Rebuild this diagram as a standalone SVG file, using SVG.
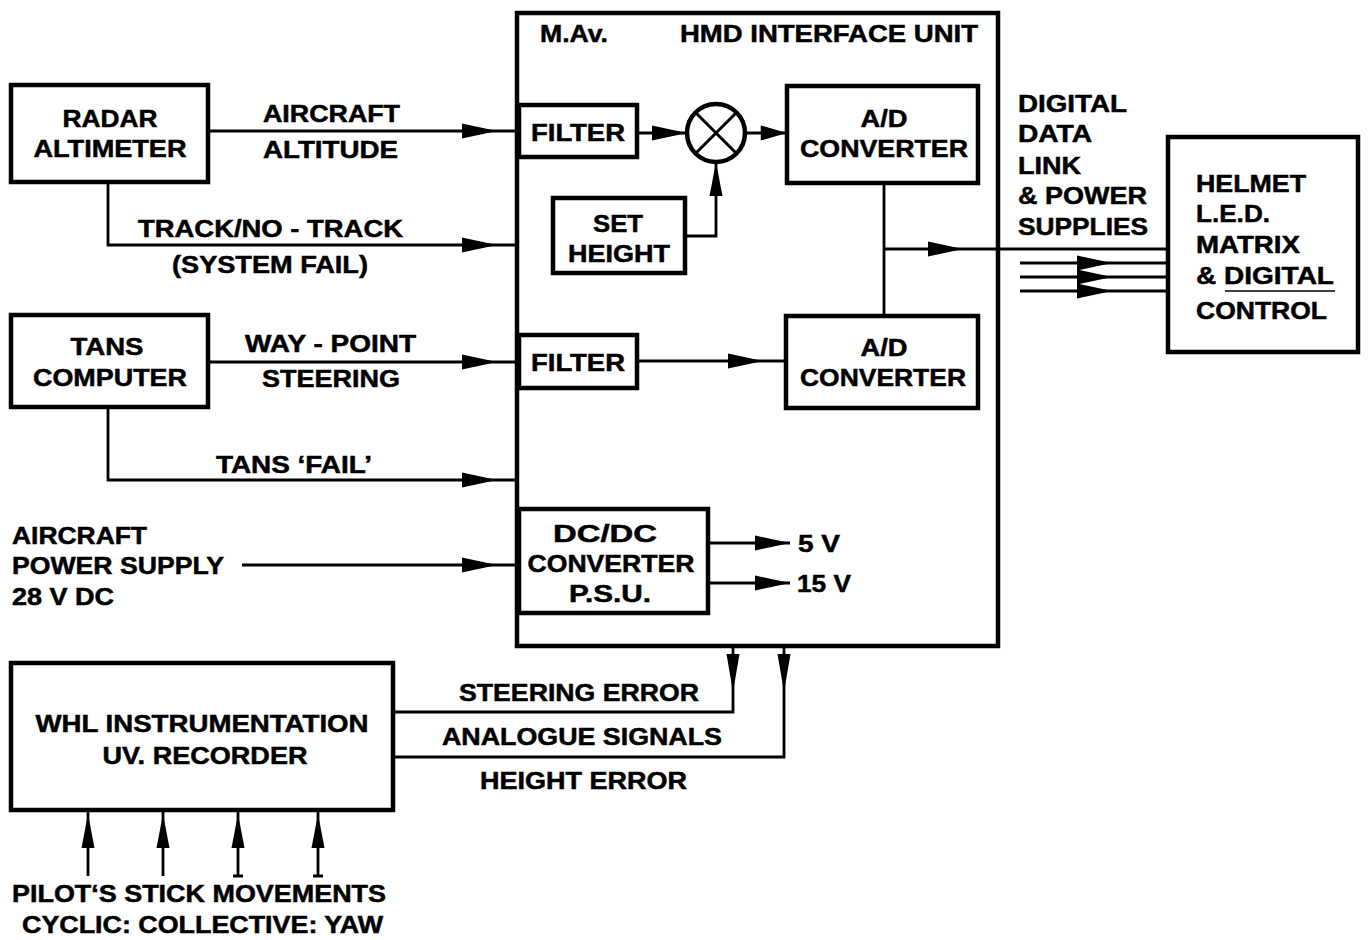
<svg xmlns="http://www.w3.org/2000/svg" xmlns:xlink="http://www.w3.org/1999/xlink" width="1368" height="940" viewBox="0 0 1368 940">
<style>
text{font-family:"Liberation Sans",Arial,sans-serif;font-weight:bold;font-size:24px;fill:#000;stroke:#000;stroke-width:0.5}
.c{text-anchor:middle}
.box{fill:none;stroke:#000;stroke-width:4.5}
.ln{fill:none;stroke:#000;stroke-width:2.8}
.ah{fill:#000;stroke:none}
</style>
<defs>
<path id="ar" d="M0,0 L-35,-7.5 L-35,7.5 Z"/>
<path id="ard" d="M0,0 L-6.5,-38 L6.5,-38 Z"/>
<path id="aru" d="M0,0 L-6.5,34 L6.5,34 Z"/>
</defs>
<rect width="1368" height="940" fill="#fff"/>

<g id="hmd-unit">
<rect class="box" x="517" y="13" width="481" height="633"/>
<text x="540" y="42" textLength="68" lengthAdjust="spacingAndGlyphs">M.Av.</text>
<text x="680" y="42" textLength="298" lengthAdjust="spacingAndGlyphs">HMD INTERFACE UNIT</text>
</g>

<g id="radar-altimeter">
<rect class="box" x="11" y="85" width="197" height="97"/>
<text class="c" x="110" y="127" textLength="95" lengthAdjust="spacingAndGlyphs">RADAR</text>
<text class="c" x="110" y="157" textLength="153" lengthAdjust="spacingAndGlyphs">ALTIMETER</text>
</g>

<g id="tans-computer">
<rect class="box" x="11" y="315" width="197" height="92"/>
<text class="c" x="107" y="355" textLength="73" lengthAdjust="spacingAndGlyphs">TANS</text>
<text class="c" x="110" y="386" textLength="154" lengthAdjust="spacingAndGlyphs">COMPUTER</text>
</g>

<g id="filter1">
<rect class="box" x="519" y="105" width="118" height="52"/>
<text class="c" x="578" y="141" textLength="94" lengthAdjust="spacingAndGlyphs">FILTER</text>
</g>

<g id="summing-junction">
<circle cx="716" cy="133" r="29" fill="none" stroke="#000" stroke-width="4.5"/>
<path class="ln" d="M695.5,112.5 L736.5,153.5 M736.5,112.5 L695.5,153.5" style="stroke-width:3"/>
</g>

<g id="ad-converter1">
<rect class="box" x="787" y="86" width="191" height="97"/>
<text class="c" x="884" y="127" textLength="47" lengthAdjust="spacingAndGlyphs">A/D</text>
<text class="c" x="884" y="157" textLength="168" lengthAdjust="spacingAndGlyphs">CONVERTER</text>
</g>

<g id="set-height">
<rect class="box" x="553" y="198" width="132" height="75"/>
<text class="c" x="618" y="232" textLength="50" lengthAdjust="spacingAndGlyphs">SET</text>
<text class="c" x="619" y="262" textLength="102" lengthAdjust="spacingAndGlyphs">HEIGHT</text>
</g>

<g id="filter2">
<rect class="box" x="519" y="335" width="118" height="53"/>
<text class="c" x="578" y="371" textLength="94" lengthAdjust="spacingAndGlyphs">FILTER</text>
</g>

<g id="ad-converter2">
<rect class="box" x="786" y="316" width="192" height="92"/>
<text class="c" x="884" y="356" textLength="47" lengthAdjust="spacingAndGlyphs">A/D</text>
<text class="c" x="883" y="386" textLength="166" lengthAdjust="spacingAndGlyphs">CONVERTER</text>
</g>

<g id="dcdc-converter">
<rect class="box" x="519" y="509" width="189" height="104"/>
<text class="c" x="605" y="542" textLength="104" lengthAdjust="spacingAndGlyphs">DC/DC</text>
<text class="c" x="611" y="572" textLength="167" lengthAdjust="spacingAndGlyphs">CONVERTER</text>
<text class="c" x="610" y="602" textLength="82" lengthAdjust="spacingAndGlyphs">P.S.U.</text>
</g>

<g id="helmet">
<rect class="box" x="1168" y="137" width="190" height="215"/>
<text x="1196" y="192" textLength="110" lengthAdjust="spacingAndGlyphs">HELMET</text>
<text x="1196" y="222" textLength="74" lengthAdjust="spacingAndGlyphs">L.E.D.</text>
<text x="1196" y="253" textLength="104" lengthAdjust="spacingAndGlyphs">MATRIX</text>
<text x="1196" y="284" textLength="138" lengthAdjust="spacingAndGlyphs">&amp; DIGITAL</text>
<line x1="1225" y1="291" x2="1335" y2="291" stroke="#000" stroke-width="1.5"/>
<text x="1196" y="319" textLength="131" lengthAdjust="spacingAndGlyphs">CONTROL</text>
</g>

<g id="whl-recorder">
<rect class="box" x="11" y="663" width="382" height="147"/>
<text class="c" x="202" y="732" textLength="333" lengthAdjust="spacingAndGlyphs">WHL INSTRUMENTATION</text>
<text class="c" x="205" y="764" textLength="205" lengthAdjust="spacingAndGlyphs">UV. RECORDER</text>
</g>

<g id="labels">
<text x="263" y="122" textLength="137" lengthAdjust="spacingAndGlyphs">AIRCRAFT</text>
<text x="263" y="158" textLength="135" lengthAdjust="spacingAndGlyphs">ALTITUDE</text>
<text x="138" y="237" textLength="265" lengthAdjust="spacingAndGlyphs">TRACK/NO - TRACK</text>
<text x="172" y="273" textLength="196" lengthAdjust="spacingAndGlyphs">(SYSTEM FAIL)</text>
<text x="245" y="352" textLength="171" lengthAdjust="spacingAndGlyphs">WAY - POINT</text>
<text x="262" y="387" textLength="138" lengthAdjust="spacingAndGlyphs">STEERING</text>
<text x="216" y="473" textLength="156" lengthAdjust="spacingAndGlyphs">TANS ‘FAIL’</text>
<text x="12" y="544" textLength="135" lengthAdjust="spacingAndGlyphs">AIRCRAFT</text>
<text x="12" y="574" textLength="212" lengthAdjust="spacingAndGlyphs">POWER SUPPLY</text>
<text x="12" y="605" textLength="102" lengthAdjust="spacingAndGlyphs">28 V DC</text>
<text x="798" y="552" textLength="42" lengthAdjust="spacingAndGlyphs">5 V</text>
<text x="797" y="592" textLength="54" lengthAdjust="spacingAndGlyphs">15 V</text>
<text x="1018" y="112" textLength="109" lengthAdjust="spacingAndGlyphs">DIGITAL</text>
<text x="1018" y="142" textLength="74" lengthAdjust="spacingAndGlyphs">DATA</text>
<text x="1018" y="174" textLength="63" lengthAdjust="spacingAndGlyphs">LINK</text>
<text x="1018" y="204" textLength="129" lengthAdjust="spacingAndGlyphs">&amp; POWER</text>
<text x="1018" y="235" textLength="130" lengthAdjust="spacingAndGlyphs">SUPPLIES</text>
<text x="459" y="701" textLength="240" lengthAdjust="spacingAndGlyphs">STEERING ERROR</text>
<text x="442" y="745" textLength="280" lengthAdjust="spacingAndGlyphs">ANALOGUE SIGNALS</text>
<text x="480" y="789" textLength="207" lengthAdjust="spacingAndGlyphs">HEIGHT ERROR</text>
<text x="12" y="902" textLength="374" lengthAdjust="spacingAndGlyphs">PILOT‘S STICK MOVEMENTS</text>
<text x="22" y="933" textLength="361" lengthAdjust="spacingAndGlyphs">CYCLIC: COLLECTIVE: YAW</text>
</g>

<g id="connectors">
<path class="ln" d="M208,131 H517"/>
<use class="ah" xlink:href="#ar" href="#ar" transform="translate(497,131)"/>
<path class="ln" d="M108,182 V245 H517"/>
<use class="ah" xlink:href="#ar" href="#ar" transform="translate(497,245)"/>
<path class="ln" d="M208,362 H517"/>
<use class="ah" xlink:href="#ar" href="#ar" transform="translate(497,362)"/>
<path class="ln" d="M108,407 V480 H517"/>
<use class="ah" xlink:href="#ar" href="#ar" transform="translate(497,480)"/>
<path class="ln" d="M242,565 H517"/>
<use class="ah" xlink:href="#ar" href="#ar" transform="translate(497,565)"/>

<path class="ln" d="M637,133 H687"/>
<use class="ah" xlink:href="#ar" href="#ar" transform="translate(687,133)"/>
<path class="ln" d="M745,133 H787"/>
<use class="ah" xlink:href="#ar" href="#ar" transform="translate(787,133) scale(0.75,1)"/>
<path class="ln" d="M685,236 H716 V162"/>
<use class="ah" xlink:href="#aru" href="#aru" transform="translate(716,162)"/>
<path class="ln" d="M637,361 H786"/>
<use class="ah" xlink:href="#ar" href="#ar" transform="translate(763,361)"/>

<path class="ln" d="M884,183 V316"/>
<path class="ln" d="M884,249 H1168"/>
<use class="ah" xlink:href="#ar" href="#ar" transform="translate(963,249)"/>
<path class="ln" d="M1020,263 H1168 M1020,277 H1168 M1020,291 H1168"/>
<use class="ah" xlink:href="#ar" href="#ar" transform="translate(1112,263)"/>
<use class="ah" xlink:href="#ar" href="#ar" transform="translate(1112,277)"/>
<use class="ah" xlink:href="#ar" href="#ar" transform="translate(1112,291)"/>

<path class="ln" d="M708,543 H790"/>
<use class="ah" xlink:href="#ar" href="#ar" transform="translate(790,543)"/>
<path class="ln" d="M708,583 H790"/>
<use class="ah" xlink:href="#ar" href="#ar" transform="translate(790,583)"/>

<path class="ln" d="M733,646 V712 H393"/>
<use class="ah" xlink:href="#ard" href="#ard" transform="translate(733,692)"/>
<path class="ln" d="M784,646 V757 H393"/>
<use class="ah" xlink:href="#ard" href="#ard" transform="translate(784,692)"/>

<path class="ln" d="M88,812 V876 M163,812 V876 M238,812 V876 M318,812 V876"/>
<path class="ln" d="M233,876 H243 M313,876 H323"/>
<use class="ah" xlink:href="#aru" href="#aru" transform="translate(88,814)"/>
<use class="ah" xlink:href="#aru" href="#aru" transform="translate(163,814)"/>
<use class="ah" xlink:href="#aru" href="#aru" transform="translate(238,814)"/>
<use class="ah" xlink:href="#aru" href="#aru" transform="translate(318,814)"/>
</g>
</svg>
